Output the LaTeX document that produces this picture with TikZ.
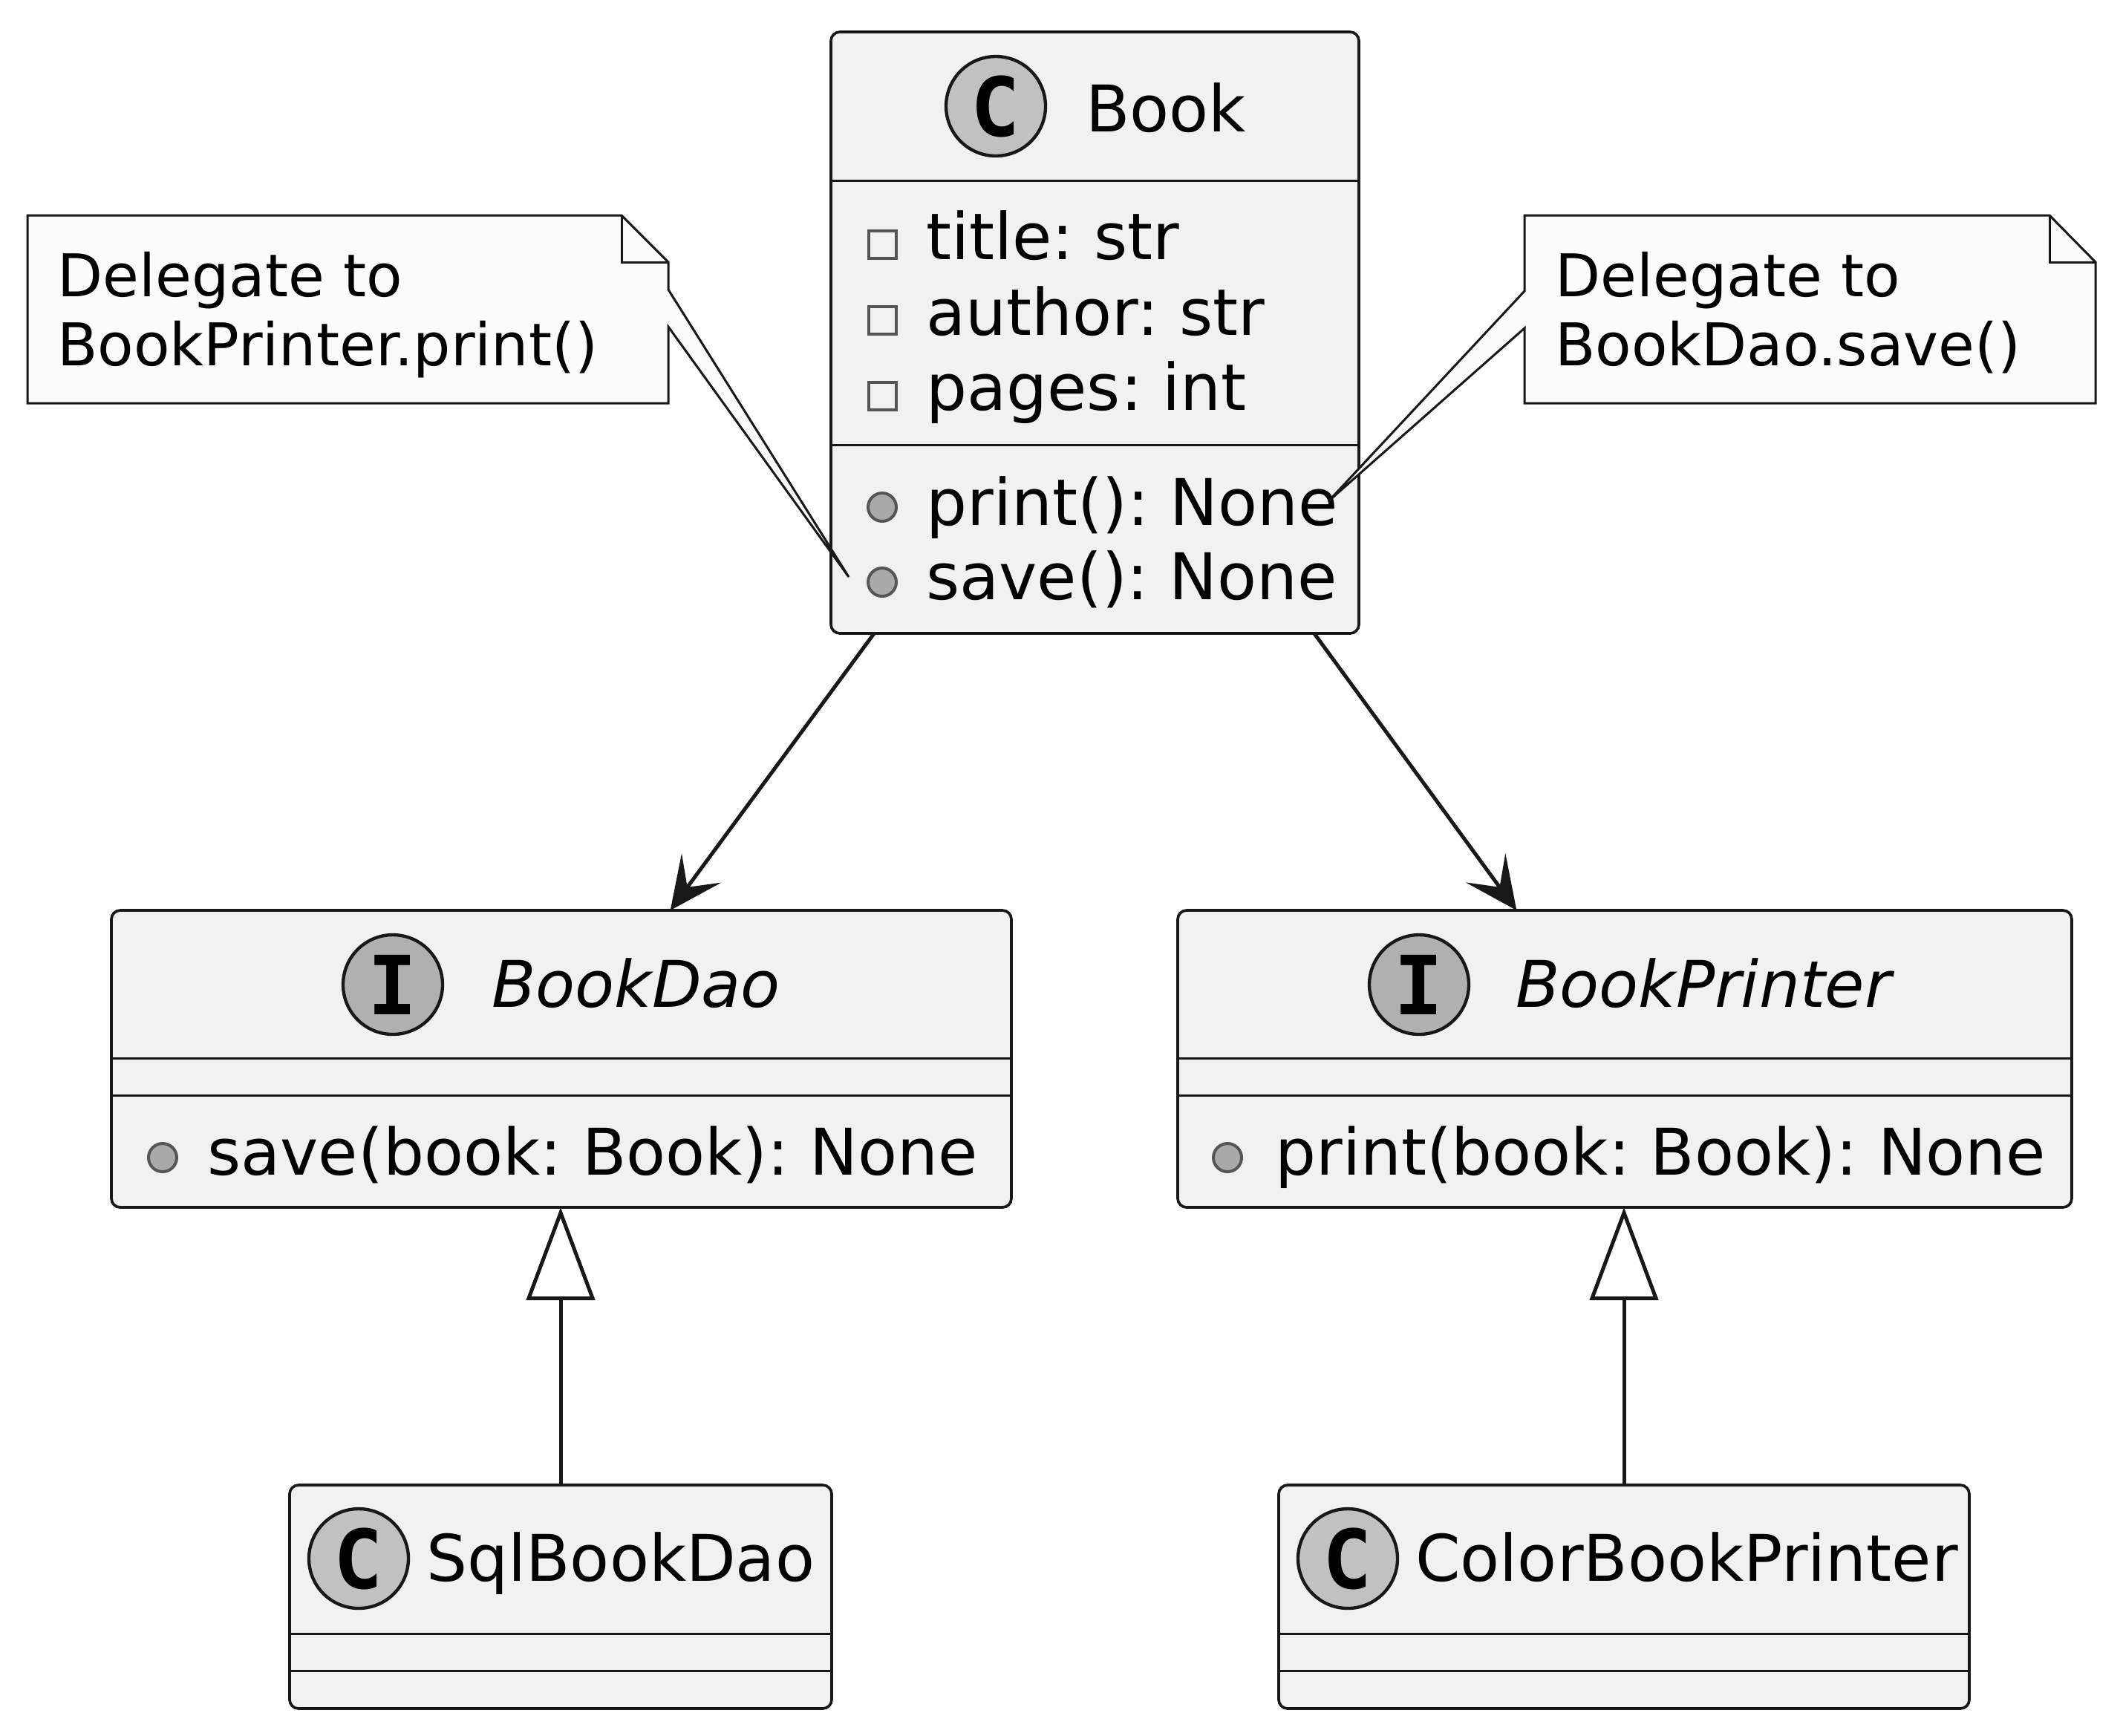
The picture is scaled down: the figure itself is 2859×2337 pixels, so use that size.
\documentclass[tikz,border=0pt]{standalone}
\usepackage{fontspec}
\setmainfont{DejaVu Sans}
\newfontfamily\iconfont{DejaVu Sans Mono}
\usetikzlibrary{arrows.meta}
\frenchspacing
\definecolor{boxfill}{HTML}{F1F1F1}
\definecolor{linecol}{HTML}{181818}
\definecolor{notefill}{HTML}{FBFBFB}
\definecolor{cfill}{HTML}{C1C1C1}
\definecolor{ifill}{HTML}{B0B0B0}
\definecolor{sqcol}{HTML}{555555}
\definecolor{dotfill}{HTML}{A9A9A9}
\newcommand{\upx}{0.15pt}
\newcommand{\classfont}{\fontsize{13.0}{15.3}\selectfont}
\newcommand{\notefont}{\fontsize{11.9}{14}\selectfont}
\tikzset{
  classbox/.style={draw=linecol, fill=boxfill, line width=0.55pt, rounded corners=1.8pt, inner sep=0pt, outer sep=0pt},
  classicon/.style={circle, draw=linecol, line width=0.65pt, fill=cfill, minimum size=134*\upx, inner sep=0pt, font=\iconfont\bfseries\fontsize{16.5}{16.5}\selectfont},
  ifaceicon/.style={classicon, fill=ifill},
  member/.style={anchor=base west, inner sep=0pt, font=\classfont},
  notetext/.style={anchor=base west, inner sep=0pt, font=\notefont},
  sep/.style={draw=linecol, line width=0.45pt},
  privsq/.style={draw=sqcol, line width=0.6pt},
  pubdot/.style={draw=sqcol, fill=dotfill, line width=0.6pt},
  notebox/.style={draw=linecol, fill=notefill, line width=0.45pt},
  assoc/.style={draw=linecol, line width=0.75pt, -{Stealth[length=10.6pt, width=9.9pt, inset=4.8pt]}},
  gen/.style={draw=linecol, line width=0.75pt, -{Triangle[length=18.75pt, width=13.8pt, fill=white]}}
}
\begin{document}
\begin{tikzpicture}[x=\upx, y=-\upx]
\useasboundingbox (0,0) rectangle (2859,2337);
%Book
\node[classbox, minimum width=711*\upx, minimum height=810*\upx] (book) at (1474.5,448) {};
\node[classicon] (bookicon) at (1341,143) {C};
\node[member] (bookname) at (1461,177) {Book};
\draw[sep] (1121,243.5) -- (1828,243.5);
\draw[privsq] (1169.5,310.5) rectangle (1206.5,347.5);
\draw[privsq] (1169.5,412.5) rectangle (1206.5,449.5);
\draw[privsq] (1169.5,514.5) rectangle (1206.5,551.5);
\node[member] (booktitle) at (1246,349) {title: str};
\node[member] (bookauthor) at (1246,451) {author: str};
\node[member] (bookpages) at (1246,552) {pages: int};
\draw[sep] (1121,599) -- (1828,599);
\filldraw[pubdot] (1188,683) circle (19);
\filldraw[pubdot] (1188,784) circle (19);
\node[member] (bookprint) at (1246,707) {print(): None};
\node[member] (booksave) at (1246,807) {save(): None};
%BookDao
\node[classbox, minimum width=1212*\upx, minimum height=400*\upx] (bookdao) at (756,1426) {};
\node[ifaceicon] (bookdaoicon) at (529,1326) {I};
\node[member] (bookdaoname) at (661,1356) {\itshape BookDao};
\draw[sep] (152,1425) -- (1360,1425);
\draw[sep] (152,1475) -- (1360,1475);
\filldraw[pubdot] (219,1559) circle (19);
\node[member] (bookdaosave) at (278,1582) {save(book: Book): None};
%BookPrinter
\node[classbox, minimum width=1204*\upx, minimum height=400*\upx] (bookprinter) at (2188,1426) {};
\node[ifaceicon] (bookprintericon) at (1911,1326) {I};
\node[member] (bookprintername) at (2040,1356) {\itshape BookPrinter};
\draw[sep] (1588,1425) -- (2788,1425);
\draw[sep] (1588,1475) -- (2788,1475);
\filldraw[pubdot] (1653,1559) circle (19);
\node[member] (bookprinterprint) at (1716,1582) {print(book: Book): None};
%SqlBookDao
\node[classbox, minimum width=730*\upx, minimum height=301*\upx] (sqlbookdao) at (755,2150.5) {};
\node[classicon] (sqlbookdaoicon) at (483,2099) {C};
\node[member] (sqlbookdaoname) at (573,2129) {SqlBookDao};
\draw[sep] (392,2200) -- (1118,2200);
\draw[sep] (392,2250) -- (1118,2250);
%ColorBookPrinter
\node[classbox, minimum width=930*\upx, minimum height=301*\upx] (colorbookprinter) at (2187,2150.5) {};
\node[classicon] (colorbookprintericon) at (1815,2099) {C};
\node[member] (colorbookprintername) at (1905,2129) {ColorBookPrinter};
\draw[sep] (1724,2200) -- (2650,2200);
\draw[sep] (1724,2250) -- (2650,2250);
%links
\draw[assoc] (book) -- (bookdao);
\draw[assoc] (book) -- (bookprinter);
\draw[gen] (sqlbookdao.north) -- (sqlbookdao.north |- bookdao.south);
\draw[gen] (colorbookprinter.north) -- (colorbookprinter.north |- bookprinter.south);
%notes
\coordinate (savetip) at (1143,777);
\coordinate (printtip) at (1789,675);
\filldraw[notebox] (37,290) -- (837,290) -- (900,353) -- (900,390) -- (savetip) -- (900,440) -- (900,543) -- (37,543) -- cycle;
\draw[notebox, fill=none] (837,290) -- (837,353) -- (900,353);
\node[notetext] (leftnote1) at (76,399) {Delegate to};
\node[notetext] (leftnote2) at (76,492) {BookPrinter.print()};
\filldraw[notebox] (2053,290) -- (2760,290) -- (2822,353) -- (2822,543) -- (2053,543) -- (2053,442) -- (printtip) -- (2053,392) -- cycle;
\draw[notebox, fill=none] (2760,290) -- (2760,353) -- (2822,353);
\node[notetext] (rightnote1) at (2093,399) {Delegate to};
\node[notetext] (rightnote2) at (2093,492) {BookDao.save()};
\end{tikzpicture}
\end{document}
